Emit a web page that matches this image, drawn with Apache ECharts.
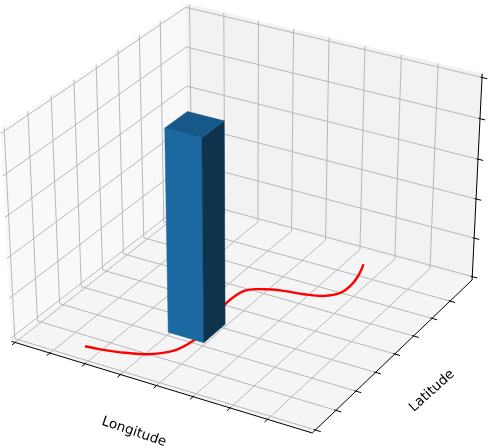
<!DOCTYPE html>
<html>
<head>
<meta charset="utf-8">
<style>
  html, body { margin: 0; padding: 0; background: #fff; }
  #chart { width: 488px; height: 448px; }
</style>
<script src="https://cdn.jsdelivr.net/npm/echarts@6/dist/echarts.min.js"></script>
</head>
<body>
<div id="chart"></div>
<script>
// axis ticks (the reference hides the tick labels, so these are tick numbers)
const lonTicks = [0, 1, 2, 3, 4, 5, 6, 7]
const latTicks = [0, 1, 2, 3, 4, 5, 6, 7]
const heightTicks = [0, 1, 2, 3, 4, 5]
const lonLim = [-0.11, 8.18]
const latLim = [-0.15, 8.25]
const heightLim = [-0.09, 5.09]

// the single bar
const barLon = [3.03, 4.03]
const barLat = [2, 3.03]
const barHeight = [0, 5.01]

// red track on the floor
const trackLon = [1.65, 2.05, 2.45, 3.13, 3.59, 3.76, 3.74, 3.62, 3.53, 3.6, 3.99, 4.46, 4.97, 5.44, 5.72, 5.76, 5.67, 5.52]
const trackLat = [0.41, 0.47, 0.57, 0.84, 1.29, 1.94, 2.6, 3.3, 3.89, 4.72, 5.04, 5.22, 5.32, 5.5, 5.86, 6.38, 6.93, 7.45]

// same view as a 3d axes: elev 30, azim -60, distance 10
const box = [1.1905, 1.1905, 0.8929]
const viewU = [0.866, 0.5, 0]
const viewV = [-0.25, 0.433, 0.866]
const viewW = [0.433, -0.75, 0.5]

function dot(a, b) {
  return a[0] * b[0] + a[1] * b[1] + a[2] * b[2]
}

// data point -> flat view plane, which is what the hidden x/y axes are scaled in
function project(lon, lat, h) {
  const q = [
    ((lon - lonLim[0]) / (lonLim[1] - lonLim[0]) - 0.5) * box[0],
    ((lat - latLim[0]) / (latLim[1] - latLim[0]) - 0.5) * box[1],
    ((h - heightLim[0]) / (heightLim[1] - heightLim[0]) - 0.5) * box[2],
  ]
  const depth = 10 - dot(q, viewW)
  return [dot(q, viewU) / depth, dot(q, viewV) / depth]
}

const [x0, x1] = lonLim
const [y0, y1] = latLim
const [z0, z1] = heightLim

const panes = [
  { color: '#f9f9f9', pts: [[x0, y0, z0], [x0, y1, z0], [x0, y1, z1], [x0, y0, z1]] },
  { color: '#f2f2f2', pts: [[x0, y1, z0], [x1, y1, z0], [x1, y1, z1], [x0, y1, z1]] },
  { color: '#f5f5f5', pts: [[x0, y0, z0], [x1, y0, z0], [x1, y1, z0], [x0, y1, z0]] },
]

const gridLines = []
lonTicks.forEach((v) => {
  gridLines.push([[v, y0, z0], [v, y1, z0], [v, y1, z1]])
})
latTicks.forEach((v) => {
  gridLines.push([[x1, v, z0], [x0, v, z0], [x0, v, z1]])
})
heightTicks.forEach((v) => {
  gridLines.push([[x0, y0, v], [x0, y1, v], [x1, y1, v]])
})

const axisLines = [
  [[x0, y0, z0], [x1, y0, z0]],
  [[x1, y0, z0], [x1, y1, z0]],
  [[x1, y1, z0], [x1, y1, z1]],
]
lonTicks.forEach((v) => {
  axisLines.push([[v, y0 - 0.14, z0], [v, y0 + 0.04, z0]])
})
latTicks.forEach((v) => {
  axisLines.push([[x1 + 0.14, v, z0], [x1 - 0.04, v, z0]])
})
heightTicks.forEach((v) => {
  axisLines.push([[x1 + 0.14, y1, v], [x1 - 0.04, y1, v]])
})

const track = [trackLon.map((v, i) => [v, trackLat[i], 0])]

const [bx0, bx1] = barLon
const [by0, by1] = barLat
const [bz0, bz1] = barHeight
const barFaces = [
  { color: '#1b69a0', pts: [[bx0, by0, bz0], [bx1, by0, bz0], [bx1, by0, bz1], [bx0, by0, bz1]] },
  { color: '#0e334d', pts: [[bx1, by0, bz0], [bx1, by1, bz0], [bx1, by1, bz1], [bx1, by0, bz1]] },
  { color: '#165989', pts: [[bx0, by0, bz1], [bx1, by0, bz1], [bx1, by1, bz1], [bx0, by1, bz1]] },
]

function toPixels(api, pts) {
  return pts.map((p) => api.coord(project(p[0], p[1], p[2])))
}

function faceSeries(faces, z) {
  return {
    type: 'custom',
    coordinateSystem: 'cartesian2d',
    silent: true,
    clip: false,
    z: z,
    data: faces.map((f, i) => [i]),
    renderItem(params, api) {
      const f = faces[params.dataIndex]
      return {
        type: 'polygon',
        shape: { points: toPixels(api, f.pts) },
        style: { fill: f.color, stroke: f.color, lineWidth: 0.5 },
      }
    },
  }
}

function lineSeries(lines, color, width, z, smooth) {
  return {
    type: 'custom',
    coordinateSystem: 'cartesian2d',
    silent: true,
    clip: false,
    z: z,
    data: lines.map((l, i) => [i]),
    renderItem(params, api) {
      return {
        type: 'polyline',
        shape: { points: toPixels(api, lines[params.dataIndex]), smooth: smooth || 0 },
        style: { fill: 'none', stroke: color, lineWidth: width },
      }
    },
  }
}

const chart = echarts.init(document.getElementById('chart'), null, { renderer: 'canvas' })

const option = {
  animation: false,
  backgroundColor: '#fff',
  grid: { left: 0, right: 0, top: 0, bottom: 0 },
  xAxis: { type: 'value', show: false, min: -0.08497, max: 0.08359 },
  yAxis: { type: 'value', show: false, min: -0.08889, max: 0.07704 },
  series: [
    faceSeries(panes, 1),
    lineSeries(gridLines, '#b8b8b8', 1, 2),
    lineSeries(axisLines, '#000', 1, 3),
    lineSeries(track, '#ff0000', 2.4, 4, 0.4),
    faceSeries(barFaces, 5),
  ],
  graphic: [
    {
      type: 'text',
      x: 134,
      y: 432,
      rotation: -0.33,
      style: { text: 'Longitude', align: 'center', verticalAlign: 'middle', font: '13.5px "DejaVu Sans"', fill: '#000' },
    },
    {
      type: 'text',
      x: 432,
      y: 391,
      rotation: 0.73,
      style: { text: 'Latitude', align: 'center', verticalAlign: 'middle', font: '13.5px "DejaVu Sans"', fill: '#000' },
    },
  ],
}

option && chart.setOption(option)
</script>
</body>
</html>
